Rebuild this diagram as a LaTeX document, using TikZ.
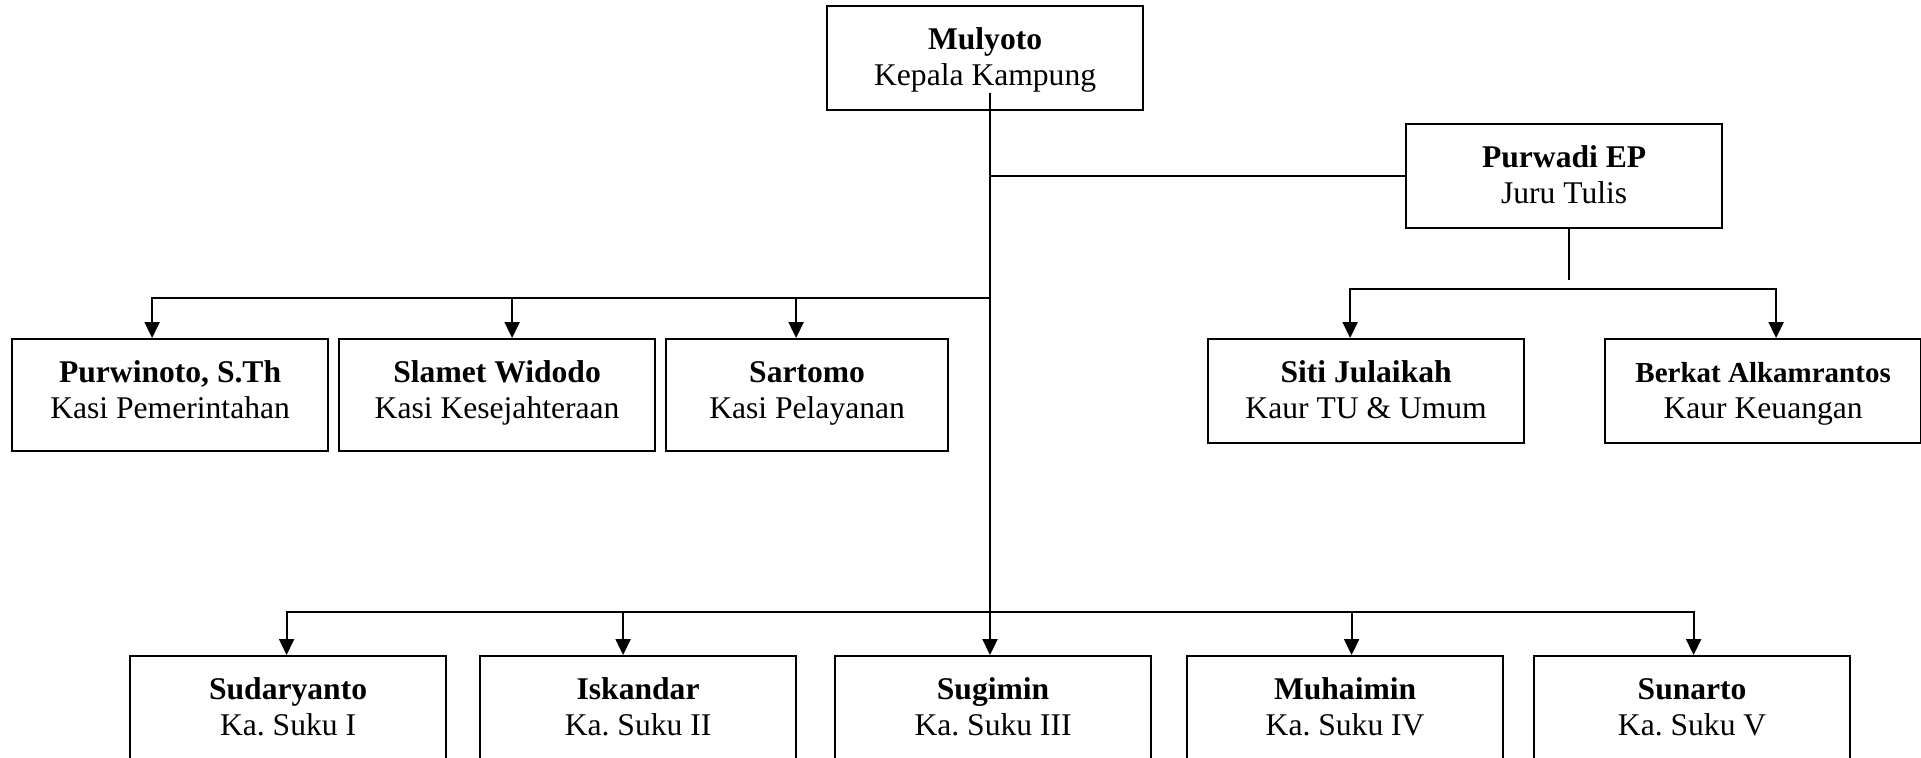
\documentclass[tikz,border=0pt]{standalone}
\usepackage{fontspec}
\setmainfont{Liberation Serif}
\frenchspacing
\usetikzlibrary{arrows.meta}
\begin{document}
\begin{tikzpicture}[x=0.5pt,y=-0.5pt,
  box/.style={draw, line width=1.1pt, inner sep=0pt, anchor=north west, align=center,
    font=\fontsize{15.8}{18}\selectfont, text height=39.5pt},
  h52/.style={text depth=12.5pt},
  h56/.style={text depth=16.5pt},
  h60/.style={text depth=22pt},
  w316/.style={minimum width=158pt},
  w282/.style={minimum width=141pt},
  conn/.style={line width=1.1pt},
  arr/.style={line width=1.1pt, -{Triangle[length=8pt,width=7.5pt]}}]
\useasboundingbox (0,0) rectangle (1921,757);
\clip (0,0) rectangle (1921,757);

% boxes
\node[box,w316,h52] (mul) at (826,5) {\textbf{Mulyoto}\\Kepala Kampung};
\node[box,w316,h52] (pwd) at (1405,123) {\textbf{Purwadi EP}\\Juru Tulis};
\node[box,w316,h56] (purw) at (11,338) {\textbf{Purwinoto, S.Th}\\Kasi Pemerintahan};
\node[box,w316,h56] (slam) at (338,338) {\textbf{Slamet Widodo}\\Kasi Kesejahteraan};
\node[box,w282,h56] (sart) at (665,338) {\textbf{Sartomo}\\Kasi Pelayanan};
\node[box,w316,h52] (siti) at (1207,338) {\textbf{Siti Julaikah}\\Kaur TU \& Umum};
\node[box,w316,h52] (berk) at (1604,338) {{\fontsize{14.5}{18}\selectfont\textbf{Berkat Alkamrantos}}\\Kaur Keuangan};
\node[box,w316,h60] (suda) at (129,655) {\textbf{Sudaryanto}\\Ka. Suku I};
\node[box,w316,h60] (isk) at (479,655) {\textbf{Iskandar}\\Ka. Suku II};
\node[box,w316,h60] (sug) at (834,655) {\textbf{Sugimin}\\Ka. Suku III};
\node[box,w316,h60] (muh) at (1186,655) {\textbf{Muhaimin}\\Ka. Suku IV};
\node[box,w316,h60] (sun) at (1533,655) {\textbf{Sunarto}\\Ka. Suku V};

% junctions
\coordinate (vtop) at (990,93);
\coordinate (jl) at (990,298);
\coordinate (jb) at (990,612);
\coordinate (stubend) at (1569,280);
\coordinate (jr) at (1569,289);

% main vertical
\draw[arr] (vtop) -- (vtop |- sug.north);
\draw[conn] (vtop |- pwd.west) -- (pwd.west);

% left branch
\draw[arr] (jl) -| ([xshift=-9pt]purw.north);
\draw[arr] (jl) -| ([xshift=7.5pt]slam.north);
\draw[arr] (jl) -| ([xshift=-5.5pt]sart.north);

% bottom branch
\draw[arr] (jb) -| ([xshift=-0.75pt]suda.north);
\draw[arr] (jb) -| ([xshift=-7.5pt]isk.north);
\draw[arr] (jb) -| ([xshift=3.25pt]muh.north);
\draw[arr] (jb) -| ([xshift=0.75pt]sun.north);

% right branch
\draw[conn] (stubend |- pwd.south) -- (stubend);
\draw[arr] (jr) -| ([xshift=-8pt]siti.north);
\draw[arr] (jr) -| ([xshift=6.5pt]berk.north);
\end{tikzpicture}
\end{document}
